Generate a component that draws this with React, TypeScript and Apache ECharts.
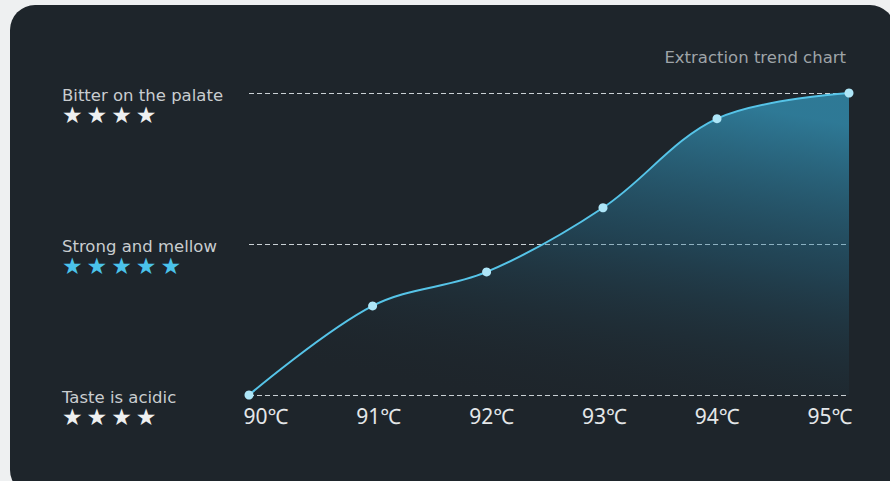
import React, { useEffect, useRef } from "react";
import * as echarts from "echarts";

const tempLabels = ["90℃", "91℃", "92℃", "93℃", "94℃", "95℃"];
const pointX = [0, 1.03, 1.98, 2.95, 3.9, 5];
const pointY = [0, 0.59, 0.815, 1.24, 1.83, 2.0];
const levelNames = ["Taste is acidic", "Strong and mellow", "Bitter on the palate"];
const levelStars = [4, 5, 4];
const levelStarStyle = ["w", "c", "w"];
const titleText = "Extraction trend chart";

export default function App() {
  const ref = useRef<HTMLDivElement>(null);
  useEffect(() => {
    if (!ref.current) return;
    const chart = echarts.init(ref.current, null, { renderer: "svg" });
    const font = "'DejaVu Sans', sans-serif";
    const labelFont = "'Noto Sans', sans-serif";
    const starStyle = (color: string) => ({
      color,
      fontSize: 23,
      lineHeight: 24,
      padding: [0, 4, 0, 0],
      fontFamily: "'DejaVu Sans'",
    });
    const option: any = {
      animation: false,
      backgroundColor: "transparent",
      graphic: [
        {
          type: "rect",
          z: -10,
          shape: { x: 10, y: 5, width: 885, height: 490, r: 25 },
          style: { fill: "#1e252b" },
          silent: true,
        },
      ],
      title: {
        text: titleText,
        right: 39,
        top: 44,
        textStyle: { color: "#9ea4a8", fontSize: 16.5, fontWeight: "normal", fontFamily: font },
      },
      grid: [
        { left: 249, right: 41, top: 93, bottom: 86 },
        { left: 266, right: 60, top: 93, bottom: 86 },
      ],
      xAxis: [
        {
          type: "value",
          gridIndex: 0,
          min: 0,
          max: 5,
          interval: 1,
          axisLine: { show: false },
          axisTick: { show: false },
          axisLabel: { show: false },
          splitLine: { show: false },
        },
        {
          type: "category",
          gridIndex: 1,
          boundaryGap: false,
          data: tempLabels,
          axisLine: { show: false },
          axisTick: { show: false },
          splitLine: { show: false },
          axisLabel: {
            color: "#e4e7e9",
            fontSize: 21,
            fontFamily: labelFont,
            margin: 10,
            verticalAlign: "top",
          },
        },
      ],
      yAxis: [
        {
          type: "value",
          gridIndex: 0,
          min: 0,
          max: 2,
          interval: 1,
          axisLine: { show: false },
          axisTick: { show: false },
          splitLine: {
            show: true,
            lineStyle: { color: "#c9d0d4", type: [5, 3], width: 1 },
          },
          axisLabel: {
            margin: 187,
            align: "left",
            verticalAlign: "middle",
            formatter: (v: number) => {
              const i = Math.round(v);
              const st = levelStarStyle[i];
              const stars = Array.from({ length: levelStars[i] }, () => `{${st}|★}`).join("");
              return `{sp| }\n{t|${levelNames[i]}}\n${stars}`;
            },
            rich: {
              sp: { lineHeight: 28, fontSize: 8 },
              t: {
                color: "#c9cdd0",
                fontSize: 16.5,
                lineHeight: 16,
                fontFamily: font,
              },
              w: starStyle("#eef0f1"),
              c: starStyle("#4bc3ea"),
            },
          },
        },
        {
          type: "value",
          gridIndex: 1,
          show: false,
          min: 0,
          max: 2,
        },
      ],
      series: [
        {
          type: "line",
          xAxisIndex: 0,
          yAxisIndex: 0,
          data: pointX.map((x, i) => [x, pointY[i]]),
          smooth: 0.35,
          symbol: "circle",
          symbolSize: 9,
          itemStyle: { color: "#aee6f8" },
          lineStyle: { color: "#56c4e8", width: 2 },
          areaStyle: {
            color: new echarts.graphic.LinearGradient(0.7, 0, 0.35, 1, [
              { offset: 0, color: "rgba(56,170,212,0.9)" },
              { offset: 0.45, color: "rgba(40,120,155,0.5)" },
              { offset: 1, color: "rgba(30,37,43,0)" },
            ]),
          },
        },
      ],
    };
    chart.setOption(option);
    return () => chart.dispose();
  }, []);
  return (
    <div
      style={{ position: "fixed", left: 0, top: 0, width: 890, height: 481, background: "#eef0f1" }}
    >
      <div ref={ref} style={{ width: 890, height: 481 }} />
    </div>
  );
}
